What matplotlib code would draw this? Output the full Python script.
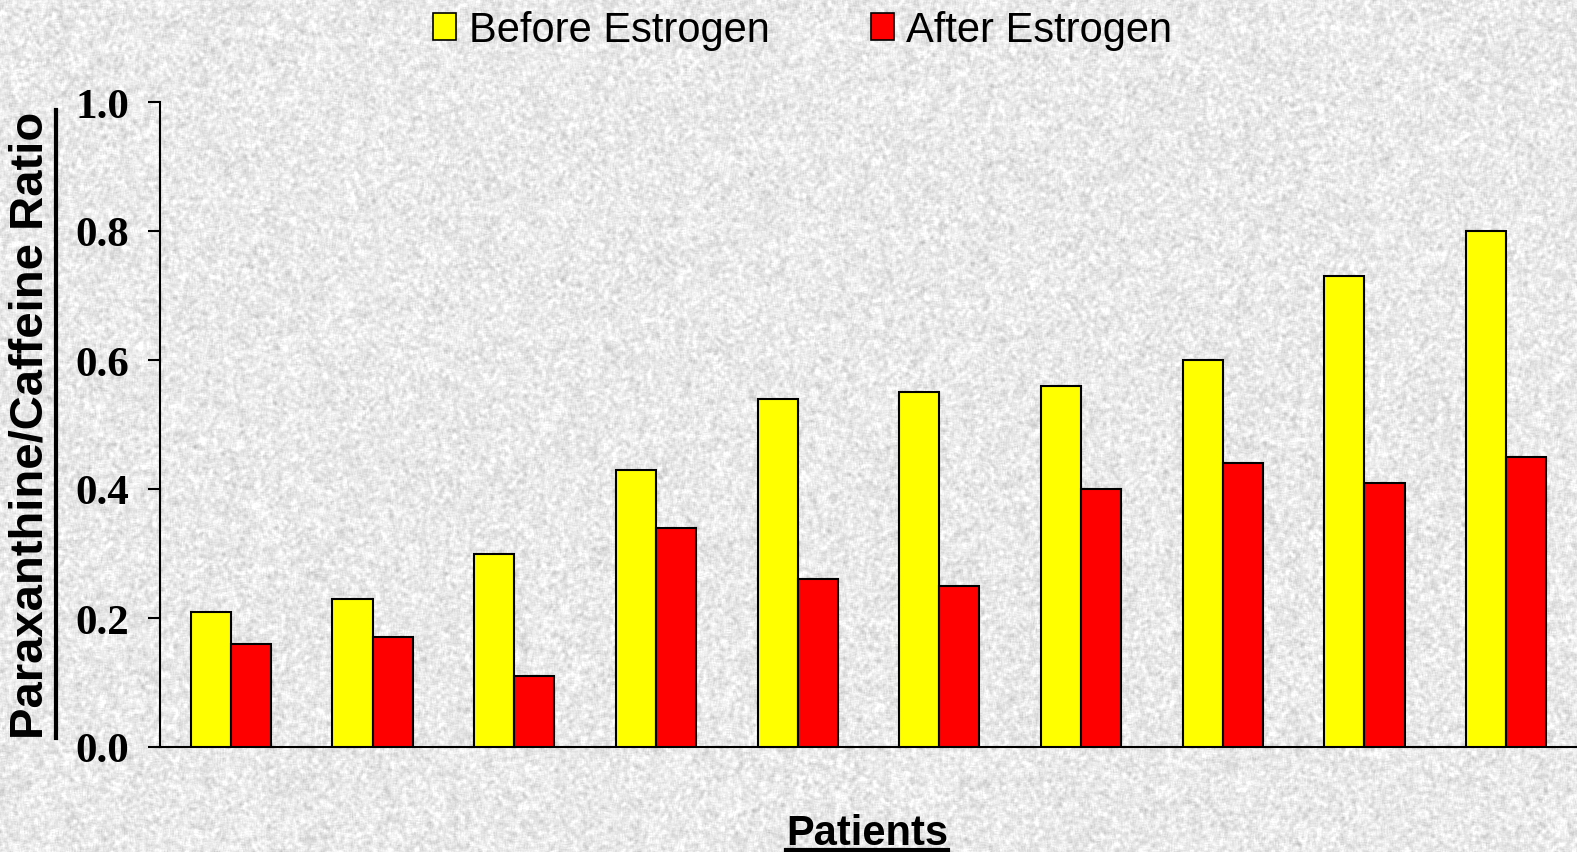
import numpy as np
import matplotlib
matplotlib.use("Agg")
import matplotlib.pyplot as plt
from matplotlib.patches import Rectangle
from matplotlib.lines import Line2D

# Paraxanthine/caffeine ratio per patient, before and after estrogen
patients = list(range(1, 11))
before_estrogen = [0.21, 0.23, 0.30, 0.43, 0.54, 0.55, 0.56, 0.60, 0.73, 0.80]
after_estrogen = [0.16, 0.17, 0.11, 0.34, 0.26, 0.25, 0.40, 0.44, 0.41, 0.45]
y_ticks = [0.0, 0.2, 0.4, 0.6, 0.8, 1.0]
series_labels = ["Before Estrogen", "After Estrogen"]
series_colors = ["#ffff00", "#ff0000"]

W, H, DPI = 1577, 853, 100
fig = plt.figure(figsize=(W / DPI, H / DPI), dpi=DPI, facecolor="#e8e8e8")

# grainy paper-like backdrop
rng = np.random.default_rng(7)
k = 4
noise = rng.normal(size=(H + k, W + k))
sm = sum(noise[i:i + H, j:j + W] for i in range(k) for j in range(k)) / k
tex = 0.915 + 0.04 * sm
tex = np.clip(tex, 0, 1)
fig.figimage(tex, cmap="gray", vmin=0, vmax=1, zorder=-10)

ax = fig.add_axes([160 / W, 1 - 748 / H, 1 - 160 / W, (748 - 103) / H])
ax.set_facecolor("none")
ax.set_zorder(2)

x = np.arange(len(patients))
bw = 0.283
ax.bar(x - bw / 2, before_estrogen, bw, color=series_colors[0],
       edgecolor="black", linewidth=1.5, zorder=3)
ax.bar(x + bw / 2, after_estrogen, bw, color=series_colors[1],
       edgecolor="black", linewidth=1.5, zorder=3)

ax.set_xlim(-0.5, len(patients) - 0.5)
ax.set_ylim(0, 1.0)
ax.set_yticks(y_ticks)
ax.set_yticklabels([f"{v:.1f}" for v in y_ticks],
                   fontfamily="Liberation Serif", fontweight="bold", fontsize=31)
ax.set_xticks([])
ax.tick_params(axis="y", direction="out", length=9, width=1.5, pad=13, colors="black")
for s in ["top", "right"]:
    ax.spines[s].set_visible(False)
for s in ["left", "bottom"]:
    ax.spines[s].set_linewidth(1.5)
    ax.spines[s].set_color("black")

# axis titles with underlines
ylab = fig.text(31 / W, 1 - 425 / H, "Paraxanthine/Caffeine Ratio", rotation=90,
                ha="center", va="center", fontfamily="Liberation Sans",
                fontweight="bold", fontsize=34)
xlab = fig.text(867 / W, 1 - 845 / H, "Patients", ha="center", va="baseline",
                fontfamily="Liberation Sans", fontweight="bold", fontsize=30)

renderer = fig.canvas.get_renderer()
yb = ylab.get_window_extent(renderer)
fig.add_artist(Line2D([55.5 / W, 55.5 / W], [yb.y0 / H, yb.y1 / H],
                      transform=fig.transFigure, color="black", linewidth=3))
xb = xlab.get_window_extent(renderer)
fig.add_artist(Line2D([xb.x0 / W, xb.x1 / W], [1 - 850.5 / H, 1 - 850.5 / H],
                      transform=fig.transFigure, color="black", linewidth=3))

# legend across the top
legend_boxes = [(433, 469), (871, 906)]
for (bx, tx), lab, col in zip(legend_boxes, series_labels, series_colors):
    fig.add_artist(Rectangle((bx / W, 1 - 41 / H), 23 / W, 27 / H,
                             transform=fig.transFigure, facecolor=col,
                             edgecolor="black", linewidth=1.2))
    fig.text(tx / W, 1 - 42 / H, lab, ha="left", va="baseline",
             fontfamily="Liberation Sans", fontsize=30)

fig.savefig("out.png", dpi=DPI, facecolor=fig.get_facecolor())
